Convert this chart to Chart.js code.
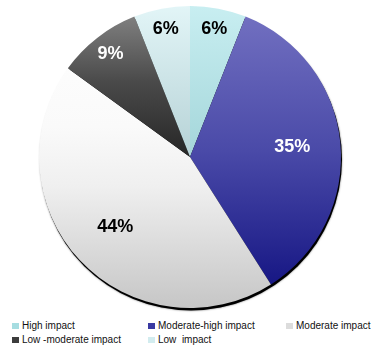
<!DOCTYPE html>
<html>
<head>
<meta charset="utf-8">
<script src="https://cdn.jsdelivr.net/npm/chart.js@4"></script>
<style>
  html, body { margin: 0; padding: 0; background: #fff; }
  #wrap { position: relative; width: 371px; height: 347px; overflow: hidden; }
  #pie { position: absolute; left: 0; top: 0; }
  #legend {
    position: absolute; left: 0; top: 319px; width: 371px;
    font-family: "Liberation Sans", Arial, sans-serif; font-size: 10px; color: #111;
  }
  .item { position: absolute; white-space: pre; line-height: 13px; }
  .box { position: absolute; width: 7px; height: 6px; top: 4px; }
  .txt { position: absolute; left: 10px; top: 0; }
</style>
</head>
<body>
<div id="wrap">
  <canvas id="pie" width="371" height="316"></canvas>
  <div id="legend"></div>
</div>
<script>
// data
const categories = ['High impact', 'Moderate-high impact', 'Moderate impact', 'Low -moderate impact', 'Low  impact'];
const shares = [6, 35, 44, 9, 6];

// styles
const gradientStops = [
    [[0, '#c8eef1'], [0.5, '#a4d6da'], [1, '#88bcc0']],
    [[0, '#7472c2'], [0.48, '#4a4aa8'], [1, '#0e0e7e']],
    [[0, '#ffffff'], [0.4, '#fafafa'], [0.6, '#efefef'], [1, '#c6c6c6']],
    [[0, '#888888'], [0.25, '#4a4a4a'], [0.5, '#262626'], [1, '#101010']],
    [[0, '#e2f5f7'], [0.5, '#b6d2d6'], [1, '#9ab8bc']]
];
const legendColors = ['#a6dde1', '#3a3aa2', '#dcdcdc', '#3c3c3c', '#d2ecef'];
const labelColors = ['#000', '#fff', '#000', '#fff', '#000'];

// legend layout: 3 columns, 2 rows
const legendCols = [12, 148, 286];
const legendRows = [0, 14];
const legendEl = document.getElementById('legend');
categories.forEach((name, i) => {
    const item = document.createElement('div');
    item.className = 'item';
    item.style.left = legendCols[i % 3] + 'px';
    item.style.top = legendRows[Math.floor(i / 3)] + 'px';
    item.innerHTML = '<span class="box" style="background:' + legendColors[i] + '"></span>' +
        '<span class="txt"></span>';
    item.querySelector('.txt').textContent = name;
    legendEl.appendChild(item);
});

// drop shadow under the whole pie
const shadowPlugin = {
    id: 'pieShadow',
    beforeDatasetsDraw(chart) {
        const arc = chart.getDatasetMeta(0).data[0];
        if (!arc) return;
        const ctx = chart.ctx;
        ctx.save();
        ctx.beginPath();
        ctx.arc(arc.x + 1, arc.y + 2.5, arc.outerRadius, 0, Math.PI * 2);
        ctx.shadowColor = 'rgba(0,0,0,0.6)';
        ctx.shadowBlur = 2;
        ctx.fillStyle = '#000';
        ctx.fill();
        ctx.restore();
    }
};

// percentage labels inside the slices
const labelPlugin = {
    id: 'pctLabels',
    afterDatasetsDraw(chart) {
        const ctx = chart.ctx;
        const meta = chart.getDatasetMeta(0);
        ctx.save();
        ctx.font = 'bold 18px "Liberation Sans", Arial, sans-serif';
        ctx.textAlign = 'center';
        ctx.textBaseline = 'middle';
        meta.data.forEach((arc, i) => {
            const mid = (arc.startAngle + arc.endAngle) / 2;
            // narrow slices get their label pushed outwards
            const f = shares[i] < 10 ? 0.86 : 0.68;
            const x = arc.x + Math.cos(mid) * arc.outerRadius * f;
            const y = arc.y + Math.sin(mid) * arc.outerRadius * f;
            ctx.fillStyle = labelColors[i];
            ctx.fillText(shares[i] + '%', x, y);
        });
        ctx.restore();
    }
};

function sliceGradient(context) {
    const i = context.dataIndex;
    const area = context.chart.chartArea;
    if (!area) return gradientStops[i][0][1];
    const g = context.chart.ctx.createLinearGradient(0, area.top, 0, area.bottom);
    gradientStops[i].forEach(s => g.addColorStop(s[0], s[1]));
    return g;
}

new Chart(document.getElementById('pie'), {
    type: 'pie',
    data: {
        labels: categories,
        datasets: [{
            data: shares,
            backgroundColor: sliceGradient,
            borderWidth: 0
        }]
    },
    options: {
        responsive: false,
        animation: false,
        devicePixelRatio: 1,
        layout: { padding: { left: 39, right: 30, top: 6, bottom: 8 } },
        plugins: {
            legend: { display: false },
            tooltip: { enabled: false }
        }
    },
    plugins: [shadowPlugin, labelPlugin]
});
</script>
</body>
</html>
